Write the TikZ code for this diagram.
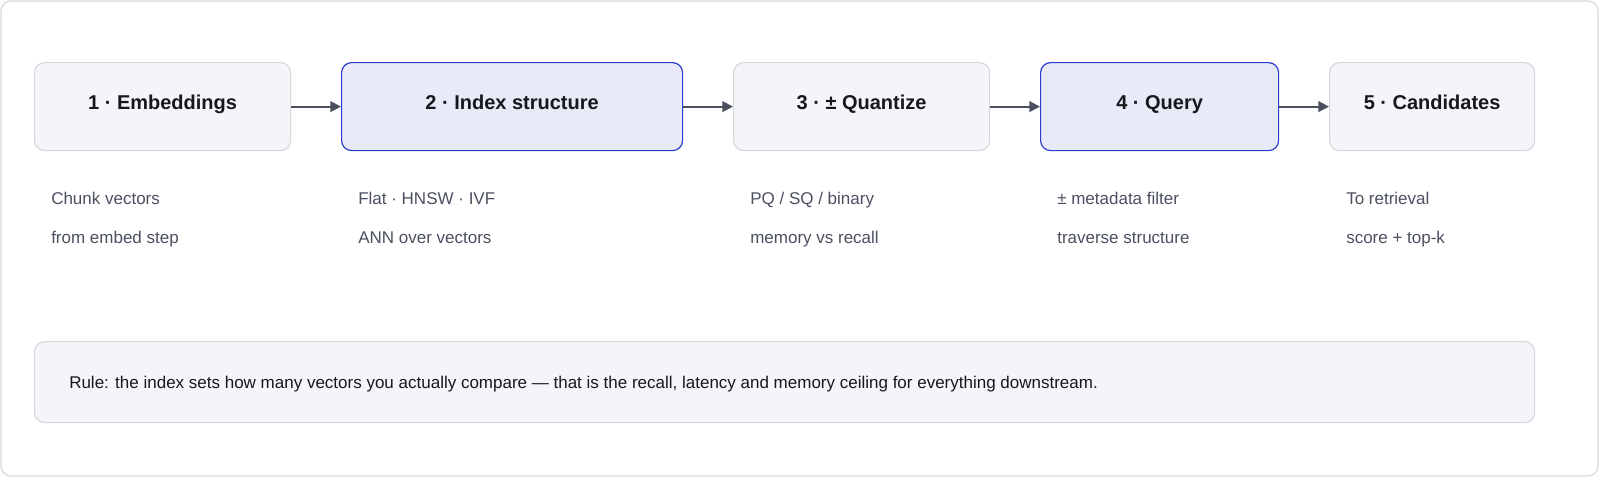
\documentclass[tikz,border=0pt]{standalone}
\usepackage{fontspec}
\setmainfont{Liberation Sans}
\usetikzlibrary{arrows.meta}
\definecolor{boxfill}{HTML}{F4F5F8}
\definecolor{boxline}{HTML}{D5D8DF}
\definecolor{hifill}{HTML}{E8EAF8}
\definecolor{hiline}{HTML}{2B3CD0}
\definecolor{arrowc}{HTML}{4A5060}
\definecolor{subc}{HTML}{4B5060}
\definecolor{titlec}{HTML}{16181D}
\begin{document}
\begin{tikzpicture}[x=0.75pt,y=-0.75pt,
    stage/.style={draw=boxline,fill=boxfill,rounded corners=7.5pt,line width=0.9pt,
                 anchor=north west,inner sep=0pt,text=titlec,text height=0.72em,text depth=0.22em,
                 font=\fontsize{15}{18}\selectfont\bfseries},
    hi/.style={stage,draw=hiline,fill=hifill},
    note/.style={anchor=base west,inner sep=0pt,text=subc,font=\fontsize{12.75}{15}\selectfont},
    flow/.style={-{Triangle[length=8pt,width=8pt]},draw=arrowc,line width=1.5pt}]

  \useasboundingbox (0,0) rectangle (1600,487);
  \draw[boxline,line width=0.9pt,rounded corners=7.5pt] (1,1) rectangle (1598,476);

  \node[stage,minimum width=192pt,minimum height=66pt] (emb) at (34,62)   {1 · Embeddings};
  \node[hi,  minimum width=255.75pt,minimum height=66pt] (idx) at (341,62)  {2 · Index structure};
  \node[stage,minimum width=192pt,minimum height=66pt] (qnt) at (733,62)  {3 · ± Quantize};
  \node[hi,  minimum width=178.5pt,minimum height=66pt] (qry) at (1040,62) {4 · Query};
  \node[stage,minimum width=153.75pt,minimum height=66pt] (cand) at (1329,62) {5 · Candidates};

  \draw[flow] (emb) -- (idx);
  \draw[flow] (idx) -- (qnt);
  \draw[flow] (qnt) -- (qry);
  \draw[flow] (qry) -- (cand);

  % notes under each stage
  \node[note] (emba) at (51,204)   {Chunk vectors};
  \node[note] (embb) at (51,243)   {from embed step};
  \node[note] (idxa) at (358,204)  {Flat · HNSW · IVF};
  \node[note] (idxb) at (358,243)  {ANN over vectors};
  \node[note] (qnta) at (750,204)  {PQ / SQ / binary};
  \node[note] (qntb) at (750,243)  {memory vs recall};
  \node[note] (qrya) at (1057,204) {± metadata filter};
  \node[note] (qryb) at (1057,243) {traverse structure};
  \node[note] (canda) at (1346,204) {To retrieval};
  \node[note] (candb) at (1346,243) {score + top-k};

  \node[stage,minimum width=1125pt,minimum height=60.75pt] (rule) at (34,341) {};
  \node[note,text=titlec] (ruletxt) at (69,388) {Rule: the index sets how many vectors you actually compare — that is the recall, latency and memory ceiling for everything downstream.};
\end{tikzpicture}
\end{document}
